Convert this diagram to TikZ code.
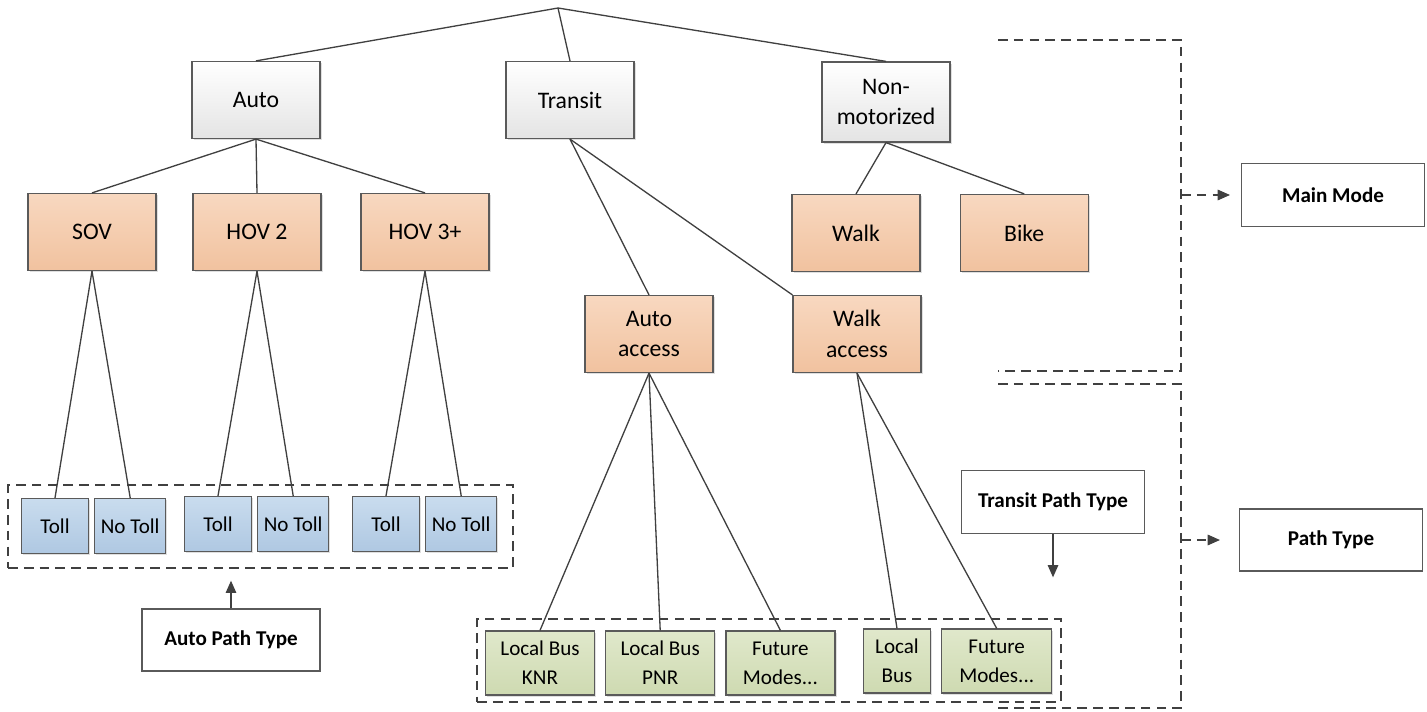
\documentclass[tikz,border=0pt]{standalone}
\usepackage{fontspec}
\setmainfont{Carlito}
\usetikzlibrary{arrows.meta, positioning, shadows}

\definecolor{linegray}{HTML}{404040}
\definecolor{boxgray}{HTML}{5A5A5A}
\definecolor{grayfill}{HTML}{E4E4E4}
\definecolor{orangetop}{HTML}{F8D8C0}
\definecolor{orangebot}{HTML}{F1C29F}
\definecolor{bluetop}{HTML}{C9DCEE}
\definecolor{bluebot}{HTML}{AFC8E2}
\definecolor{greentop}{HTML}{E0E8CB}
\definecolor{greenbot}{HTML}{CEDAB1}

\tikzset{
  mode/.style={draw=boxgray, line width=0.7pt, top color=white, bottom color=grayfill,
    minimum width=2.56cm, minimum height=1.54cm, align=center,
    font=\fontsize{13.5}{17.5}\selectfont,
    drop shadow={shadow xshift=1pt, shadow yshift=-1pt, opacity=0.25}},
  sub/.style={mode, top color=orangetop, bottom color=orangebot},
  toll/.style={mode, top color=bluetop, bottom color=bluebot, inner sep=2pt,
    minimum width=1.34cm, minimum height=1.1cm, font=\fontsize{12}{16.5}\selectfont},
  pathbox/.style={mode, top color=greentop, bottom color=greenbot, inner sep=2pt,
    minimum width=2.18cm, minimum height=1.28cm, font=\fontsize{12}{16.5}\selectfont},
  label/.style={draw=boxgray, line width=0.6pt, fill=white, minimum width=3.66cm,
    minimum height=1.26cm, font=\bfseries\fontsize{12}{14}\selectfont},
  group/.style={draw=linegray, line width=0.75pt, dash pattern=on 5.5pt off 3.5pt},
  tree/.style={draw=linegray, line width=0.75pt},
}

\begin{document}
\begin{tikzpicture}[x=0.02cm, y=-0.02cm, node distance=0.1cm]
  \useasboundingbox (0,0) rectangle (1427,711);

  % main modes
  \coordinate (R) at (558,8);
  \node[mode] (Auto) at (256,100) {Auto};
  \node[mode] (Transit) at (570,100) {Transit};
  \node[mode, minimum height=1.6cm] (NonMot) at (886,102) {Non-\\motorized};

  \node[sub] (SOV) at (92,232) {SOV};
  \node[sub] (HOV2) at (257,232) {HOV 2};
  \node[sub] (HOV3) at (425,232) {HOV 3+};
  \node[sub] (Walk) at (856,233) {Walk};
  \node[sub, right=0.78cm of Walk] (Bike) {Bike};
  \node[sub] (AutoAcc) at (649,334) {Auto\\access};
  \node[sub] (WalkAcc) at (857,334) {Walk\\access};

  % auto path types
  \node[toll] (T1) at (55,526) {Toll};
  \node[toll, minimum width=1.42cm, right=of T1] (NT1) {No Toll};
  \node[toll] (T2) at (218,524) {Toll};
  \node[toll, minimum width=1.42cm, right=of T2] (NT2) {No Toll};
  \node[toll] (T3) at (386,524) {Toll};
  \node[toll, minimum width=1.42cm, right=of T3] (NT3) {No Toll};
  \node[group, minimum width=10.1cm, minimum height=1.66cm] (AG) at (260.5,526.5) {};
  \node[label, minimum width=3.56cm, minimum height=1.24cm] (APT) at (231,640) {Auto Path Type};

  % transit path types
  \node[pathbox] (KNR) at (540,663) {Local Bus\\KNR};
  \node[pathbox, right=0.2cm of KNR] (PNR) {Local Bus\\PNR};
  \node[pathbox, right=0.2cm of PNR] (Fut1) {Future\\Modes...};
  \node[pathbox, minimum width=1.34cm] (LBus) at (897,661) {Local\\Bus};
  \node[pathbox, minimum width=2.2cm, right=0.2cm of LBus] (Fut2) {Future\\Modes...};
  \node[group, minimum width=11.68cm, minimum height=1.66cm] (TG) at (769,660.5) {};
  \node[label] (TPT) at (1053,502) {Transit Path Type};

  % legend
  \node[label] (MM) at (1333,195) {Main Mode};
  \node[label, minimum height=1.24cm] (PT) at (1331,540) {Path Type};
  \draw[group] (998,40) -| (1181,371) -- (998,371);
  \draw[group] (998,384) -| (1181,708) -- (998,708);
  \coordinate (B1) at (1181,195);
  \coordinate (B2) at (1181,540);

  \draw[tree] (R) -- (Auto.north);
  \draw[tree] (R) -- (Transit.north);
  \draw[tree] (R) -- (NonMot.north);
  \foreach \c in {SOV, HOV2, HOV3}
    \draw[tree] (Auto.south) -- (\c.north);
  \draw[tree] (Transit.south) -- (AutoAcc.north);
  \draw[tree] (Transit.south) -- (WalkAcc.north west);
  \draw[tree] (NonMot.south) -- (Walk.north);
  \draw[tree] (NonMot.south) -- (Bike.north);
  \draw[tree] (SOV.south) -- (T1.north);
  \draw[tree] (SOV.south) -- (NT1.north);
  \draw[tree] (HOV2.south) -- (T2.north);
  \draw[tree] (HOV2.south) -- (NT2.north);
  \draw[tree] (HOV3.south) -- (T3.north);
  \draw[tree] (HOV3.south) -- (NT3.north);
  \foreach \c in {KNR, PNR, Fut1}
    \draw[tree] (AutoAcc.south) -- (\c.north);
  \draw[tree] (WalkAcc.south) -- (LBus.north);
  \draw[tree] (WalkAcc.south) -- (Fut2.north);

  \draw[tree, -{Triangle[length=7pt, width=6pt]}, shorten >=0.24cm]
    (APT.north) -- (APT.north |- AG.south);
  \draw[tree, -{Triangle[length=7pt, width=6pt]}, shorten >=0.82cm]
    (TPT.south) -- (TPT.south |- TG.north);
  \draw[group, -{Triangle[length=7pt, width=6pt]}, shorten >=0.22cm]
    (B1) -- (B1 -| MM.west);
  \draw[group, -{Triangle[length=7pt, width=6pt]}, shorten >=0.38cm]
    (B2) -- (B2 -| PT.west);
\end{tikzpicture}
\end{document}
